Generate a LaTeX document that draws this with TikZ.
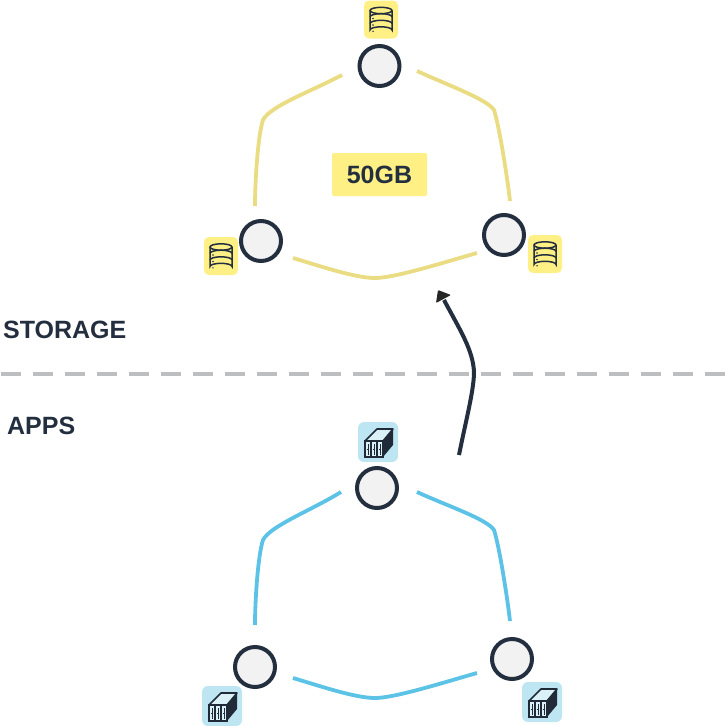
\documentclass[tikz,border=0pt]{standalone}
\usepackage{fontspec}
\setmainfont{Liberation Sans}
\definecolor{ink}{HTML}{232F3F}
\definecolor{ylin}{HTML}{E9DC82}
\definecolor{ybad}{HTML}{FFF085}
\definecolor{blin}{HTML}{5CC3E6}
\definecolor{bbad}{HTML}{BDE6F2}
\definecolor{dashc}{HTML}{BCBEC0}
\definecolor{ringf}{HTML}{F2F2F2}
\tikzset{
  ringnode/.style={circle,draw=ink,fill=ringf,line width=4pt,minimum size=40pt,inner sep=0pt},
  linky/.style={ylin,line width=3.8pt,line cap=butt},
  linkb/.style={blin,line width=3.8pt,line cap=butt},
  lab/.style={text=ink,inner sep=0pt},
  dbicon/.pic={
    \fill[ybad,rounded corners=5pt] (-17,-19) rectangle (17,19);
    \begin{scope}[draw=ink,line width=1.5pt]
      \draw (-11,-9) -- (-11,10.5) arc[start angle=180,end angle=360,x radius=11,y radius=3.2] -- (11,-9);
      \draw (0,-9) ellipse[x radius=11,y radius=3.2];
      \draw (-11,-2.6) arc[start angle=180,end angle=360,x radius=11,y radius=3.2];
      \draw (-11,4) arc[start angle=180,end angle=360,x radius=11,y radius=3.2];
    \end{scope}
    \fill[ink] (-8,-1) circle (0.8) (-8,5.5) circle (0.8) (-8,11.8) circle (0.8);
  },
  boxicon/.pic={
    \fill[bbad,rounded corners=6pt] (-20,-20) rectangle (20,20);
    \fill[ink!90!black,line join=round] (5,-1) -- (15,-13) -- (15,3) -- (5,15) -- cycle;
    \draw[ink!90!black,line width=1.6pt,line join=round,fill=bbad!55!white] (-13,-1) -- (-1,-13) -- (15,-13) -- (5,-1) -- cycle;
    \draw[ink!90!black,line width=1.6pt,fill=bbad!55!white] (-13,-1) rectangle (5,15);
    \draw[ink!90!black,line width=1.3pt] (-7,-1) -- (-7,15) (-1,-1) -- (-1,15);
    \draw[ink!90!black,line width=0.7pt] (-10,2) -- (-10,13) (-4,2) -- (-4,13) (2,2) -- (2,13);
    \draw[ink!90!black,line width=0.8pt] (-11,7) -- (-9,7) (-5,7) -- (-3,7) (1,7) -- (3,7);
  },
}
\newcommand{\labfont}{\bfseries\fontsize{25}{25}\selectfont}
\begin{document}
\begin{tikzpicture}[x=1pt,y=-1pt]
\useasboundingbox (0,0) rectangle (726,726);
% divider
\coordinate (dl) at (1,373.5);
\coordinate (dr) at (726,373.5);
\draw[dashc,line width=4pt,dash pattern=on 20pt off 12pt] (dl) -- (dr);
% labels
\node[lab,font=\labfont,anchor=base west] (storage) at (3,338) {STORAGE};
\node[lab,font=\labfont,anchor=base west] (apps) at (7,434) {APPS};
\node[fill=ybad,rounded corners=1.5pt,minimum width=95pt,minimum height=43pt,inner sep=0pt] (cap) at (379.5,174.5) {};
\node[lab,font=\labfont] (captext) at (cap) {50GB};
% storage rings
\node[ringnode] (st) at (379.5,66) {};
\node[ringnode] (sl) at (261,241) {};
\node[ringnode] (sr) at (504,235) {};
\pic at (381,19.5) {dbicon};
\pic at (221,256) {dbicon};
\pic at (545,254) {dbicon};
\coordinate (s1a) at (342,75); \coordinate (s1b) at (255,206);
\coordinate (s2a) at (417,71); \coordinate (s2b) at (510,201);
\coordinate (s3a) at (293,258); \coordinate (s3b) at (477,253);
\draw[linky] (s1a) .. controls (312,91) and (270,106) .. (263,120) .. controls (258,135) and (255,180) .. (s1b);
\draw[linky] (s2a) .. controls (445,84) and (487,99) .. (494,110) .. controls (499,125) and (507,175) .. (s2b);
\draw[linky] (s3a) .. controls (320,266) and (355,278) .. (375,278) .. controls (395,278) and (445,262) .. (s3b);
% apps rings
\node[ringnode] (at) at (377,488) {};
\node[ringnode] (al) at (255,667) {};
\node[ringnode] (ar) at (512,659) {};
\pic at (378,442) {boxicon};
\pic at (222,706) {boxicon};
\pic at (542,702) {boxicon};
\coordinate (a1a) at (341,492); \coordinate (a1b) at (255,625);
\coordinate (a2a) at (417,492); \coordinate (a2b) at (510,621);
\coordinate (a3a) at (293,678); \coordinate (a3b) at (477,673);
\draw[linkb] (a1a) .. controls (312,510) and (270,526) .. (263,540) .. controls (258,555) and (255,600) .. (a1b);
\draw[linkb] (a2a) .. controls (445,505) and (487,519) .. (494,530) .. controls (499,545) and (507,595) .. (a2b);
\draw[linkb] (a3a) .. controls (320,686) and (355,698) .. (375,698) .. controls (395,698) and (445,682) .. (a3b);
% arrow
\coordinate (arrs) at (459,455);
\coordinate (arre) at (444,300);
\draw[ink,line width=4pt] (arrs) .. controls (466,420) and (474,390) .. (474,372) .. controls (473,350) and (460,330) .. (arre);
\fill[black!85,rounded corners=1pt] (438,290) -- (451,295) -- (436,303) -- cycle;
\end{tikzpicture}
\end{document}
